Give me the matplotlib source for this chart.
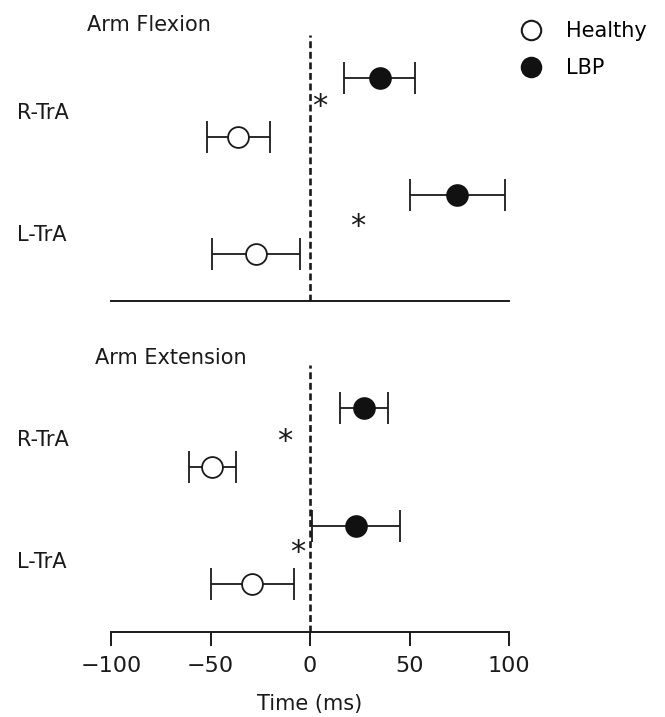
import matplotlib
matplotlib.use("Agg")
import matplotlib.pyplot as plt
from matplotlib.lines import Line2D

plt.rcParams['font.family'] = ['DejaVu Sans']

muscles = ["R-TrA", "L-TrA"]
muscle_pos = [1, 0]
panels = ["Arm Flexion", "Arm Extension"]

flex_healthy_mean = [-36, -27]
flex_healthy_err = [16, 22]
flex_lbp_mean = [35, 74]
flex_lbp_err = [18, 24]
flex_star_x = [5, 24]
flex_star_y = [1.01, -0.02]

ext_healthy_mean = [-49, -29]
ext_healthy_err = [12, 21]
ext_lbp_mean = [27, 23]
ext_lbp_err = [12, 22]
ext_star_x = [-12.5, -6]
ext_star_y = [0.97, 0.02]

xticks = [-100, -50, 0, 50, 100]
xticklabels = ["\u2212100", "\u221250", "0", "50", "100"]

fig = plt.figure(figsize=(6.65, 7.17), dpi=100)
W, H = 665, 717
left = 111 / W
width = 398 / W
ax_top = fig.add_axes([left, 1 - 301 / H, width, 266 / H])
ax_bot = fig.add_axes([left, 1 - 632 / H, width, 267 / H])

data = [
    (ax_top, flex_healthy_mean, flex_healthy_err, flex_lbp_mean, flex_lbp_err, flex_star_x, flex_star_y, panels[0]),
    (ax_bot, ext_healthy_mean, ext_healthy_err, ext_lbp_mean, ext_lbp_err, ext_star_x, ext_star_y, panels[1]),
]
label_shift = {0: [-0.047, -0.09], 1: [-0.02, -0.06]}
title_pos = {0: (-24 / 398, 1 + 10 / 266), 1: (-16 / 398, 1 + 7 / 267)}

off = 0.25
ms = 15
ink = '#1a1a1a'
for i, (ax, hm, he, lm, le, sx, sy, title) in enumerate(data):
    yh = [p - off for p in muscle_pos]
    yl = [p + off for p in muscle_pos]
    ax.axvline(0, color=ink, lw=1.9, ls=(0, (2.6, 1.4)), zorder=1)
    ax.errorbar(hm, yh, xerr=he, fmt='o', ms=ms, mfc='white', mec=ink, mew=1.3,
                ecolor=ink, elinewidth=1.3, capsize=11.5, capthick=1.3, zorder=3)
    ax.errorbar(lm, yl, xerr=le, fmt='o', ms=ms, mfc='#111111', mec='#111111', mew=1.3,
                ecolor=ink, elinewidth=1.3, capsize=11.5, capthick=1.3, zorder=3)
    for x, y in zip(sx, sy):
        ax.text(x, y, "*", fontsize=22, ha='center', va='center', color=ink)
    ax.set_xlim(-100, 100)
    ax.set_ylim(-0.655, 1.62)
    for s in ['top', 'right', 'left']:
        ax.spines[s].set_visible(False)
    ax.spines['bottom'].set_linewidth(1.4)
    ax.spines['bottom'].set_color(ink)
    ax.set_yticks([])
    for m, p, d in zip(muscles, muscle_pos, label_shift[i]):
        ax.text(-0.235, p + d, m, transform=ax.get_yaxis_transform(),
                fontsize=15, ha='left', va='center', color=ink)
    tx, ty = title_pos[i]
    ax.text(tx, ty, title, transform=ax.transAxes,
            fontsize=15, ha='left', va='center', color=ink)

ax_top.set_xticks([])
ax_bot.set_xticks(xticks)
ax_bot.set_xticklabels(xticklabels, fontsize=16, color=ink)
ax_bot.tick_params(axis='x', length=10, width=1.4, color=ink, pad=7)
ax_bot.set_xlabel("Time (ms)", fontsize=15, color=ink, labelpad=13)

handles = [
    Line2D([], [], ls='none', marker='o', ms=14, mfc='white', mec=ink, mew=1.5),
    Line2D([], [], ls='none', marker='o', ms=14, mfc='#111111', mec='#111111', mew=1.5),
]
fig.legend(handles, ["Healthy", "LBP"], loc='upper left', bbox_to_anchor=(521 / W, 1 - 21 / H),
           frameon=False, fontsize=15, handlelength=1.0, handletextpad=1.18,
           labelspacing=0.84, borderpad=0, borderaxespad=0)

fig.savefig("out.png", dpi=100)
